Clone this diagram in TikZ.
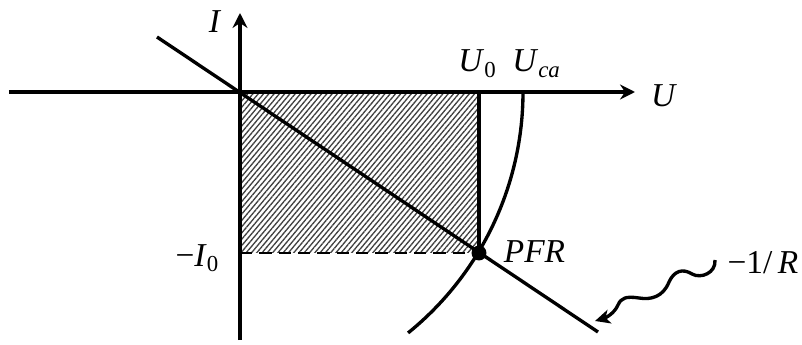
\documentclass[tikz,border=0pt]{standalone}
\usepackage{fontspec}
\setmainfont{Liberation Serif}
\usetikzlibrary{arrows.meta,patterns.meta}

\newcommand{\lbl}[1]{\textit{#1}}
\newcommand{\subs}[1]{\raisebox{-3pt}{\fontsize{13}{13}\selectfont #1}}

\begin{document}
\begin{tikzpicture}[font=\fontsize{19}{22}\selectfont,
        axis/.style={line width=2pt,-{Stealth[length=3mm,width=3mm,inset=1mm]}},
        curve/.style={line width=1.9pt}]
        \useasboundingbox (-4.8,1.84) rectangle (11.24,-5.06);

        \coordinate (o) at (0,0);
        \coordinate (xl) at (-4.62,0);
        \coordinate (xr) at (7.9,0);
        \coordinate (yb) at (0,-4.96);
        \coordinate (yt) at (0,1.58);
        \coordinate (u0) at (4.78,0);
        \coordinate (i0) at (0,-3.22);
        \coordinate (p) at (4.78,-3.22);
        \coordinate (ls) at (-1.66,1.1);
        \coordinate (le) at (7.16,-4.8);
        \coordinate (ca) at (5.66,0);
        \coordinate (wv) at (9.5,-3.36);
        \coordinate (tip) at (7.1,-4.58);

        \fill[pattern={Lines[angle=50,distance=2.3pt,line width=0.75pt]},pattern color=black!75] (o) rectangle (p);

        \draw[axis] (xl) -- (xr);
        \draw[axis] (yb) -- (yt);

        \draw[curve] (u0) -- (p);
        \draw[line width=1.6pt,dash pattern=on 7pt off 4pt] (i0) -- (p);
        \draw[curve] (ls) -- (le);
        \draw[curve] (ca) arc[start angle=0,end angle=-51,radius=6.2];
        \fill (p) circle (0.15);

        \node (ilab) at (-0.5,1.4) {\lbl{I}};
        \node (ulab) at (8.48,-0.08) {\lbl{U}};
        \node[anchor=base west,inner sep=0pt] (u0lab) at (4.36,0.4) {\lbl{U}\subs{0}};
        \node[anchor=base west,inner sep=0pt] (ucalab) at (5.44,0.4) {\lbl{U}\subs{\itshape ca}};
        \node (i0lab) at (-0.86,-3.32) {−\lbl{I}\subs{0}};
        \node (pfr) at (5.89,-3.19) {\lbl{PFR}};
        \node (rlab) at (10.46,-3.42) {−1/\,\lbl{R}};

        \draw[curve,-{Stealth[length=3mm,width=2.8mm,inset=0.8mm]}] (wv)
            .. controls (9.52,-3.62) and (9.22,-3.74) .. (9.04,-3.64)
            .. controls (8.85,-3.52) and (8.68,-3.58) .. (8.58,-3.8)
            .. controls (8.46,-4.1) and (8.22,-4.16) .. (7.98,-4.12)
            .. controls (7.72,-4.08) and (7.62,-4.12) .. (7.56,-4.26)
            .. controls (7.48,-4.44) and (7.3,-4.52) .. (tip);
\end{tikzpicture}
\end{document}
